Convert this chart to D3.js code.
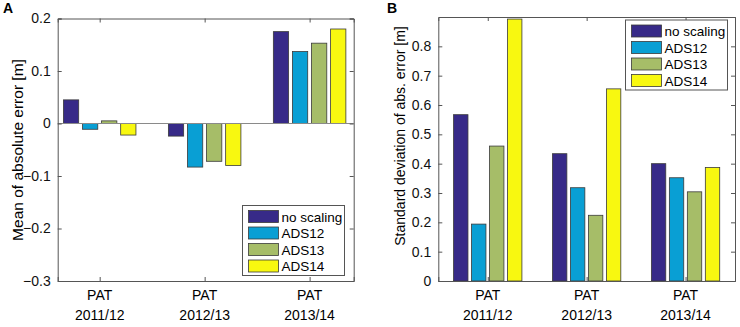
<!DOCTYPE html>
<html>
<head>
<meta charset="utf-8">
<script src="https://cdn.jsdelivr.net/npm/d3@7"></script>
<style>
body{margin:0;background:#fff;}
svg{font-family:"Liberation Sans",Arial,sans-serif;}
</style>
</head>
<body>
<svg id="chart" width="740" height="327"></svg>
<script>
var groups = ["2011/12", "2012/13", "2013/14"];
var series = ["no scaling", "ADS12", "ADS13", "ADS14"];
var colors = ["#372a88", "#099fd4", "#a6bd68", "#f8f810"];

// panel A: mean of absolute error
var meanNoScaling = [0.045, -0.024, 0.175];
var meanADS12 = [-0.011, -0.083, 0.137];
var meanADS13 = [0.005, -0.072, 0.153];
var meanADS14 = [-0.022, -0.080, 0.180];
var ticksA = [-0.3, -0.2, -0.1, 0, 0.1, 0.2];

// panel B: standard deviation of abs. error
var sdNoScaling = [0.567, 0.434, 0.400];
var sdADS12 = [0.194, 0.318, 0.352];
var sdADS13 = [0.460, 0.224, 0.304];
var sdADS14 = [0.893, 0.655, 0.387];
var ticksB = [0, 0.1, 0.2, 0.3, 0.4, 0.5, 0.6, 0.7, 0.8];

var svg = d3.select("#chart");

function panel(opt){
    var x = d3.scaleLinear().domain(opt.xlim).range([opt.left, opt.right]);
    var y = d3.scaleLinear().domain(opt.ylim).range([opt.bottom, opt.top]);
    var g = svg.append("g");

    // matlab style grouped bars
    var n = opt.data.length;
    var gw = Math.min(0.8, n / (n + 1.5));
    var step = gw / n;
    var bw = step * 0.8;

    opt.data.forEach(function(vals, s){
        g.selectAll(null)
            .data(vals)
            .enter()
            .append("rect")
            .attr("x", (d,i)=>x(i + 1 + (s - (n-1)/2) * step - bw/2))
            .attr("width", x(bw) - x(0))
            .attr("y", d=>y(Math.max(0,d)))
            .attr("height", d=>Math.abs(y(d) - y(0)))
            .style("fill", colors[s])
            .style("stroke", "#3a3a3a")
            .style("stroke-width", 0.8);
    });

    // baseline
    if (opt.ylim[0] < 0) {
        g.append("line")
            .attr("x1", opt.left).attr("x2", opt.right)
            .attr("y1", y(0)).attr("y2", y(0))
            .style("stroke", "#8a8a8a").style("stroke-width", 1.2);
    }

    var axL = g.append("g").attr("transform","translate("+opt.left+",0)")
        .call(d3.axisLeft(y).tickValues(opt.ticks).tickSize(-4).tickPadding(7).tickFormat(d3.format("")));
    var axR = g.append("g").attr("transform","translate("+opt.right+",0)")
        .call(d3.axisRight(y).tickValues(opt.ticks).tickSize(-4).tickFormat(""));
    var axB = g.append("g").attr("transform","translate(0,"+opt.bottom+")")
        .call(d3.axisBottom(x).tickValues([1,2,3]).tickSize(-4).tickFormat(""));
    var axT = g.append("g").attr("transform","translate(0,"+opt.top+")")
        .call(d3.axisTop(x).tickValues([1,2,3]).tickSize(-4).tickFormat(""));

    [axL, axR, axB, axT].forEach(function(a){
        a.select(".domain").style("stroke","#555").style("stroke-width",1);
        a.selectAll(".tick line").style("stroke","#555");
        a.selectAll("text").style("font-size","14px").style("fill","#111")
            .style("font-family","'Liberation Sans',Arial,sans-serif");
    });

    groups.forEach(function(lab, i){
        g.append("text").attr("x", x(i+1)).attr("y", 300)
            .attr("text-anchor","middle").style("font-size","14px").text("PAT");
        g.append("text").attr("x", x(i+1)).attr("y", 320)
            .attr("text-anchor","middle").style("font-size","14px").text(lab);
    });

    g.append("text")
        .attr("transform","translate("+opt.labelX+","+opt.labelY+") rotate(-90)")
        .attr("text-anchor","middle")
        .style("font-size", opt.labelSize)
        .text(opt.ylabel);

    g.append("text").attr("x", opt.letterX).attr("y", 13)
        .style("font-size","14px").style("font-weight","bold").text(opt.letter);

    // legend
    var leg = g.append("g").attr("transform","translate("+opt.legX+","+opt.legY+")");
    leg.append("rect").attr("width",102).attr("height",70)
        .style("fill","#fff").style("stroke","#555").style("stroke-width",1);
    series.forEach(function(name, i){
        leg.append("rect")
            .attr("x", 6).attr("y", 5 + i*16.5)
            .attr("width", 30).attr("height", 12)
            .style("fill", colors[i]).style("stroke","#3a3a3a").style("stroke-width",0.8);
        leg.append("text")
            .attr("x", 39).attr("y", 16 + i*16.5)
            .style("font-size","13.5px").text(name);
    });
}

panel({
    data:[meanNoScaling, meanADS12, meanADS13, meanADS14],
    xlim:[0.6, 3.42], ylim:[-0.3, 0.2], ticks:ticksA,
    left:57.7, right:353.7, top:18.5, bottom:281,
    ylabel:"Mean of absolute error [m]", labelX:23, labelY:150, labelSize:"15.5px",
    letter:"A", letterX:3, legX:242.5, legY:205.5
});

panel({
    data:[sdNoScaling, sdADS12, sdADS13, sdADS14],
    xlim:[0.5, 3.5], ylim:[0, 0.9], ticks:ticksB,
    left:438.3, right:735, top:17, bottom:281,
    ylabel:"Standard deviation of abs. error [m]", labelX:405, labelY:136, labelSize:"14px",
    letter:"B", letterX:387, legX:625.5, legY:20
});
</script>
</body>
</html>
